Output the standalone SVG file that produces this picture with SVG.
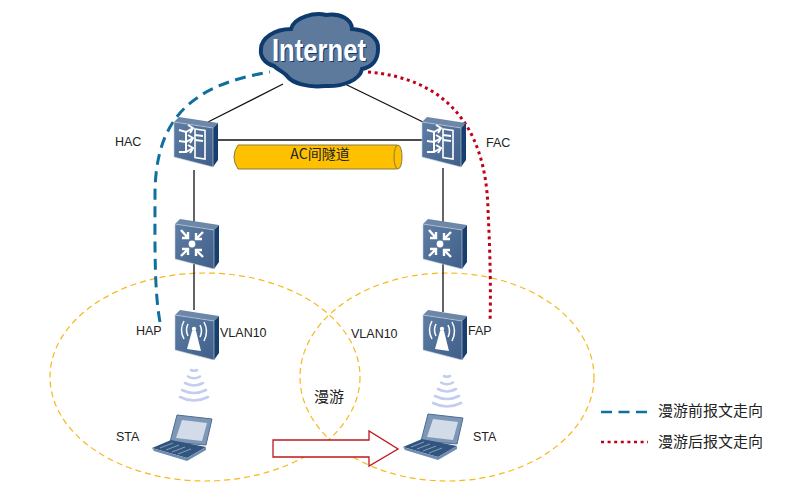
<svg xmlns="http://www.w3.org/2000/svg" width="798" height="483" viewBox="0 0 798 483">
<style>
text{font-family:"Liberation Sans","Noto Sans CJK SC",sans-serif;font-size:12.5px;fill:#222}
.cjk{font-family:"Noto Sans CJK SC","Liberation Sans",sans-serif;font-size:15px}
.ln{fill:none;stroke:#111;stroke-width:1.3}
.ell{fill:none;stroke:#f7b81a;stroke-width:1.2;stroke-dasharray:6 4}
.before{fill:none;stroke:#0f6f9e;stroke-width:3;stroke-dasharray:11 6.5}
.after{fill:none;stroke:#c00018;stroke-width:3;stroke-dasharray:3 3.6}
.g{fill:none;stroke:#fff;stroke-width:2.4}
.w{fill:#fff}
.wave{fill:none;stroke:#c3cdf0;stroke-width:2.6;stroke-linecap:round}
</style>
<defs>
<linearGradient id="face" x1="0" y1="0" x2="1" y2="1"><stop offset="0" stop-color="#5f7ea6"/><stop offset="1" stop-color="#3f5f88"/></linearGradient>
<g id="box">
<polygon points="0,5 5,0 44,6 39,11" fill="#6d87a8"/>
<polygon points="39,11 44,6 44,43 39,50" fill="#173f6d"/>
<polygon points="0,5 39,11 39,50 0,40" fill="url(#face)" stroke="#c6d2e0" stroke-width="0.6"/>
</g>
<g id="ac">
<use href="#box"/>
<polygon points="21,12 31,13.5 31,42 21,40.5" fill="none" stroke="#fff" stroke-width="1.6"/>
<path class="g" style="stroke-width:2" d="M5,13 12,15 19,11 M5,24 12,25 19,21 M5,35 12,35 19,31"/>
<path class="g" style="stroke-width:2" d="M14,8 19,11 16,16 M14,18 19,21 16,26 M14,28 19,31 16,36 M12,15 12,25 M12,25 12,35"/>
<path class="g" style="stroke-width:2" d="M21,18 29,19 M21,23 29,24"/>
</g>
<g id="sw">
<use href="#box"/>
<circle cx="17" cy="25" r="3.4" class="w"/>
<path class="g" d="M6,11 13,19 M13,13 13,19 7,19 M28,13 21,20 M21,14 21,20 27,20 M6,37 13,30 M7,30 13,30 13,36 M28,38 21,31 M21,37 21,31 27,31"/>
</g>
<g id="ap">
<use href="#box"/>
<polygon points="17,21 21,21 26,41 12,39" class="w"/>
<circle cx="19" cy="19" r="2.2" class="w"/>
<path class="g" style="stroke-width:1.5" d="M13,14 Q10,20 13,26 M9,11 Q4,20 9,29 M25,15 Q28,21 25,27 M29,12 Q34,21 29,31"/>
</g>
<g id="wifi">
<path class="wave" d="M-3,0 Q0,1.5 3,0 M-6,6.5 Q0,10 6,6.5 M-9,13 Q0,18 9,13 M-12,20 Q0,26 12,20 M-14,27 Q0,34 14,27"/>
</g>
<g id="laptop">
<polygon points="25,0 60,4 54,30 18,27" fill="#7d97b6" stroke="#4e6c92" stroke-width="1"/>
<polygon points="30,5 55,8 50,26 24,23" fill="#d3dbe8"/>
<polygon points="0,33 19,25 54,32 35,43" fill="#31557f"/>
<path d="M8,33 21,28 M14,35 27,30 M20,37 33,32 M26,39 39,34" stroke="#9bb0c8" stroke-width="0.8" fill="none"/>
<polygon points="0,33 35,43 54,32 54,35 35,46 2,36" fill="#6f8cae"/>
</g>
</defs>
<g id="connectors">
<ellipse class="ell" cx="205" cy="377" rx="155" ry="104"/>
<ellipse class="ell" cx="447" cy="377" rx="147" ry="104"/>
<path class="ln" d="M283,84 208,122 M345,84 423,122 M218,140 H423 M194,170 V222 M194,264 V310 M443,168 V222 M443,262 V312" />
<path class="before" d="M160,322 C154,290 155,240 155,195 C155,120 190,85 270,72"/>
<path class="after" d="M368,72 C440,78 486,120 488,210 C490,250 491,290 490,322"/>
<polygon points="273,440 369,440 369,431 398,449 369,466 369,457 273,457" fill="#fff" stroke="#c0181c" stroke-width="1.3"/>
</g>
<g id="tunnel">
<path d="M238,145 H397 Q403,157 397,169 H238 Q230,157 238,145Z" fill="#ffc000" stroke="#8a7a3a" stroke-width="1"/>
<ellipse cx="398" cy="157" rx="4" ry="12" fill="#ffc000" stroke="#8a7a3a" stroke-width="1"/>
<text class="cjk" x="320" y="159" text-anchor="middle" style="font-size:14px">AC间隧道</text>
</g>
<g id="internet">
<path d="M291,29 C294,17 315,12 326,15 C340,13 352,19 352,29 C368,30 379,38 378,49 C378,60 372,67 362,69 C360,80 343,87 325,86 C308,88 292,83 287,76 C284,72 278,70 274,66 C264,63 260,56 261,49 C261,38 275,29 291,29Z" fill="#5d7a9c" stroke="#0e3a6e" stroke-width="4"/>
<text x="272" y="61" textLength="94" lengthAdjust="spacingAndGlyphs" style="font-family:'Liberation Sans',sans-serif;font-size:31px;font-weight:bold;fill:#0e3a6e" transform="translate(1,1)">Internet</text>
<text x="272" y="61" textLength="94" lengthAdjust="spacingAndGlyphs" style="font-family:'Liberation Sans',sans-serif;font-size:31px;font-weight:bold;fill:#fff">Internet</text>
</g>
<g id="HAC"><use href="#ac" x="174" y="117"/><text x="115" y="146">HAC</text></g>
<g id="FAC"><use href="#ac" x="422" y="117"/><text x="486" y="147">FAC</text></g>
<g id="SW1"><use href="#sw" x="175" y="219"/></g>
<g id="SW2"><use href="#sw" x="423" y="219"/></g>
<g id="HAP"><use href="#ap" x="175" y="310"/><text x="136" y="335">HAP</text><text x="220" y="337">VLAN10</text></g>
<g id="FAP"><use href="#ap" x="423" y="310"/><text x="468" y="335">FAP</text><text x="351" y="338">VLAN10</text></g>
<g id="STA1"><use href="#wifi" x="194" y="370"/><use href="#laptop" x="152" y="415"/><text x="116" y="441">STA</text></g>
<g id="STA2"><use href="#wifi" x="447" y="376"/><use href="#laptop" x="403" y="414"/><text x="473" y="441">STA</text></g>
<text class="cjk" x="314" y="402">漫游</text>
<g id="legend">
<line class="before" style="stroke-width:2.6" x1="601" y1="412" x2="648" y2="412"/>
<line class="after" style="stroke-width:2.6" x1="601" y1="442" x2="648" y2="442"/>
<text class="cjk" x="658" y="416">漫游前报文走向</text>
<text class="cjk" x="658" y="447">漫游后报文走向</text>
</g>
</svg>
